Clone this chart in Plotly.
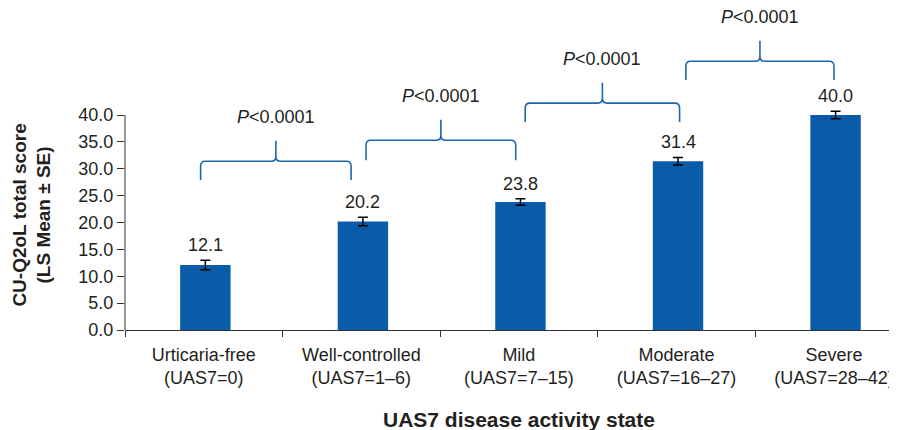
import plotly.graph_objects as go

# ---- data ----
categories = ["Urticaria-free<br>(UAS7=0)", "Well-controlled<br>(UAS7=1–6)", "Mild<br>(UAS7=7–15)",
              "Moderate<br>(UAS7=16–27)", "Severe<br>(UAS7=28–42)"]
ls_means = [12.1, 20.2, 23.8, 31.4, 40.0]
se_values = [0.9, 0.8, 0.6, 0.7, 0.7]
y_ticks = [0, 5, 10, 15, 20, 25, 30, 35, 40]

# comparison brackets (category-index positions, data-y levels)
bracket_x0 = [-0.02, 1.03, 2.04, 3.06]
bracket_x1 = [0.935, 1.98, 3.02, 4.0]
bracket_bottom = [27.9, 31.6, 38.7, 46.5]
bracket_mid = [31.4, 35.3, 42.2, 50.0]
bracket_peak = [35.2, 39.1, 46.0, 53.8]
bracket_labels = ["<i>P</i>&lt;0.0001"] * 4

FONT = "Arial, 'Liberation Sans', sans-serif"
TXT = "#231f20"
BAR = "#0a5ca8"
BRK = "#1f66b0"

fig = go.Figure()
fig.add_trace(go.Bar(
    x=categories, y=ls_means,
    marker=dict(color=BAR, line=dict(width=0)),
    error_y=dict(type="data", array=se_values, visible=True, color="black", thickness=1.5, width=5),
    width=0.32, offset=-0.15,
    showlegend=False, hoverinfo="skip",
))

shapes = []
# y axis line only from 0 to 40
shapes.append(dict(type="line", xref="paper", yref="y", x0=0, x1=0, y0=0, y1=max(y_ticks),
                   line=dict(color="#333333", width=1)))
rx, ry = 0.03, 0.9
for x0, x1, yb, yh, yp in zip(bracket_x0, bracket_x1, bracket_bottom, bracket_mid, bracket_peak):
    xc = (x0 + x1) / 2
    path = (f"M {x0},{yb} L {x0},{yh-ry} Q {x0},{yh} {x0+rx},{yh} "
            f"L {xc-rx},{yh} Q {xc},{yh} {xc},{yh+ry} L {xc},{yp} "
            f"L {xc},{yh+ry} Q {xc},{yh} {xc+rx},{yh} "
            f"L {x1-rx},{yh} Q {x1},{yh} {x1},{yh-ry} L {x1},{yb}")
    shapes.append(dict(type="path", xref="x", yref="y", path=path,
                       line=dict(color=BRK, width=1.6)))

annotations = []
for i, (v, se) in enumerate(zip(ls_means, se_values)):
    annotations.append(dict(x=i + 0.01, y=v + se, xref="x", yref="y", text=f"{v:.1f}", showarrow=False,
                            yanchor="bottom", yshift=3, font=dict(family=FONT, size=18, color=TXT)))
for x0, x1, yp, lab in zip(bracket_x0, bracket_x1, bracket_peak, bracket_labels):
    annotations.append(dict(x=(x0 + x1) / 2, y=yp, xref="x", yref="y", text=lab, showarrow=False,
                            yanchor="middle", yshift=24, font=dict(family=FONT, size=18, color=TXT)))
annotations.append(dict(x=-0.121, y=0.382, xref="paper", yref="paper",
                        text="<b>CU-Q2oL total score<br>(LS Mean ± SE)</b>", showarrow=False,
                        textangle=-90, xanchor="center", yanchor="middle",
                        font=dict(family=FONT, size=19, color=TXT)))
annotations.append(dict(x=2, y=-0.298, xref="x", yref="paper",
                        text="<b>UAS7 disease activity state</b>", showarrow=False,
                        xanchor="center", yanchor="middle",
                        font=dict(family=FONT, size=21, color=TXT)))

fig.update_layout(
    width=889, height=422,
    margin=dict(l=117, r=0, t=21, b=100),
    paper_bgcolor="white", plot_bgcolor="white",
    shapes=shapes, annotations=annotations,
    xaxis=dict(type="category", range=[-0.5, 4.4], showline=True, linecolor="#333333", linewidth=1,
               ticks="outside", tickson="boundaries", ticklen=6, tickcolor="#333333",
               ticklabelstandoff=8,
               tickfont=dict(family=FONT, size=18, color=TXT), showgrid=False, zeroline=False),
    yaxis=dict(range=[0, 56], tickvals=y_ticks, ticktext=[f"{t:.1f}" for t in y_ticks],
               showline=False, ticks="outside", ticklen=7, tickcolor="#333333",
               tickfont=dict(family=FONT, size=18, color=TXT), showgrid=False, zeroline=False),
    bargap=0.68,
)

fig.write_html("out.html")
